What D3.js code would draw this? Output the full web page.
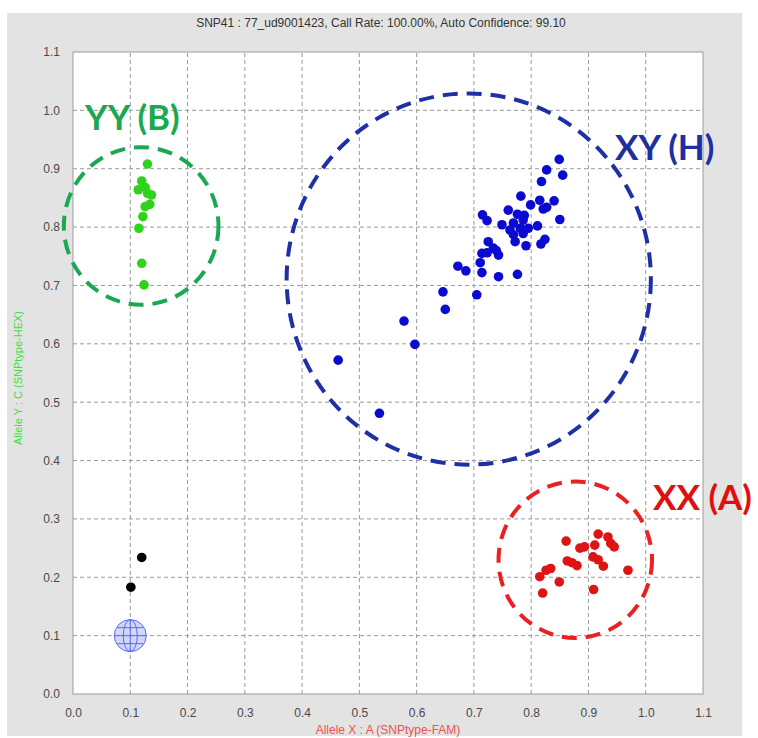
<!DOCTYPE html>
<html>
<head>
<meta charset="utf-8">
<script src="https://cdn.jsdelivr.net/npm/d3@7"></script>
<style>
  body { margin: 0; background: #fff; }
  svg { display: block; }
</style>
</head>
<body>
<svg></svg>
<script>
const width = 758
const height = 738

// 数据
const title = "SNP41 : 77_ud9001423, Call Rate: 100.00%, Auto Confidence: 99.10"
const xTitle = "Allele X : A (SNPtype-FAM)"
const yTitle = "Allele Y : C (SNPtype-HEX)"
const ticks = [0, 0.1, 0.2, 0.3, 0.4, 0.5, 0.6, 0.7, 0.8, 0.9, 1.0, 1.1]

// YY (B)
const yyX = [0.130, 0.120, 0.114, 0.126, 0.130, 0.137, 0.134, 0.126, 0.122, 0.115, 0.120, 0.124]
const yyY = [0.908, 0.879, 0.864, 0.868, 0.858, 0.855, 0.839, 0.835, 0.818, 0.798, 0.738, 0.701]

// XY (H)
const xyX = [0.849, 0.827, 0.855, 0.818, 0.782, 0.815, 0.840, 0.799, 0.760, 0.827, 0.821, 0.776,
  0.788, 0.715, 0.723, 0.786, 0.850, 0.749, 0.769, 0.763, 0.781, 0.795, 0.811, 0.769, 0.786,
  0.772, 0.791, 0.824, 0.817, 0.725, 0.734, 0.714, 0.723, 0.743, 0.739, 0.711, 0.672, 0.686,
  0.714, 0.743, 0.776, 0.646, 0.705, 0.650, 0.578, 0.597, 0.463, 0.535]
const xyY = [0.916, 0.898, 0.889, 0.878, 0.853, 0.846, 0.845, 0.838, 0.829, 0.834, 0.831, 0.822,
  0.820, 0.821, 0.811, 0.812, 0.813, 0.804, 0.807, 0.795, 0.798, 0.798, 0.802, 0.787, 0.789,
  0.775, 0.768, 0.779, 0.771, 0.775, 0.764, 0.755, 0.756, 0.752, 0.760, 0.739, 0.733, 0.725,
  0.722, 0.715, 0.719, 0.689, 0.684, 0.659, 0.639, 0.599, 0.572, 0.481]

// XX (A)
const xxX = [0.917, 0.934, 0.939, 0.945, 0.861, 0.911, 0.885, 0.893, 0.908, 0.917, 0.926, 0.863,
  0.871, 0.880, 0.969, 0.834, 0.826, 0.815, 0.849, 0.820, 0.909]
const xxY = [0.274, 0.269, 0.258, 0.252, 0.262, 0.255, 0.250, 0.252, 0.235, 0.230, 0.219, 0.228,
  0.225, 0.220, 0.212, 0.215, 0.212, 0.201, 0.192, 0.173, 0.179]

// 未判定
const ucX = [0.120, 0.101]
const ucY = [0.234, 0.183]

// NTC
const ntcX = [0.1]
const ntcY = [0.1]

// 聚类圈
const clusterNames = ["YY (B)", "XY (H)", "XX (A)"]
const clusterCx = [0.119, 0.691, 0.877]
const clusterCy = [0.802, 0.711, 0.230]
const clusterR = [0.135, 0.318, 0.134]

const svg = d3.select('svg').attr('width', width).attr('height', height)
  .style('font-family', 'Arial, "Liberation Sans", sans-serif')

// 灰色背景
svg.append('rect').attr('x', 7).attr('y', 13).attr('width', 735).attr('height', 723).attr('fill', '#e3e3e3')

const x = d3.scaleLinear().domain([0, 1.1]).range([73, 703])
const y = d3.scaleLinear().domain([0, 1.1]).range([694, 52])

svg.append('rect').attr('x', x(0)).attr('y', y(1.1))
  .attr('width', x(1.1) - x(0)).attr('height', y(0) - y(1.1))
  .attr('fill', '#fff')

// 网格
const grid = svg.append('g')
grid.selectAll('.gx').data(ticks.slice(1, -1)).enter().append('line')
  .attr('x1', d => x(d)).attr('x2', d => x(d)).attr('y1', y(0)).attr('y2', y(1.1))
  .attr('stroke', '#9a9a9a').attr('stroke-dasharray', '4,3')
grid.selectAll('.gy').data(ticks.slice(1, -1)).enter().append('line')
  .attr('y1', d => y(d)).attr('y2', d => y(d)).attr('x1', x(0)).attr('x2', x(1.1))
  .attr('stroke', '#9a9a9a').attr('stroke-dasharray', '4,3')

svg.append('rect').attr('x', x(0)).attr('y', y(1.1))
  .attr('width', x(1.1) - x(0)).attr('height', y(0) - y(1.1))
  .attr('fill', 'none').attr('stroke', '#9b9b9b')

// 坐标轴
const xAxis = svg.append('g').attr('transform', 'translate(0,' + (y(0) + 11) + ')')
  .call(d3.axisBottom(x).tickValues(ticks).tickFormat(d3.format('.1f')).tickSize(0))
xAxis.select('.domain').remove()
xAxis.selectAll('text').attr('font-size', 12).attr('fill', '#4a4a4a').attr('font-family', 'Arial, "Liberation Sans", sans-serif')

const yAxis = svg.append('g').attr('transform', 'translate(' + (x(0) - 10) + ',0)')
  .call(d3.axisLeft(y).tickValues(ticks).tickFormat(d3.format('.1f')).tickSize(0))
yAxis.select('.domain').remove()
yAxis.selectAll('text').attr('font-size', 12).attr('fill', '#4a4a4a').attr('font-family', 'Arial, "Liberation Sans", sans-serif')

// 标题
svg.append('text').attr('x', 381).attr('y', 27).attr('text-anchor', 'middle')
  .attr('font-size', 12).attr('fill', '#333').text(title)
svg.append('text').attr('x', 388).attr('y', 734).attr('text-anchor', 'middle')
  .attr('font-size', 12).attr('fill', '#f25050').text(xTitle)
svg.append('text').attr('transform', 'translate(22,378) rotate(-90)').attr('text-anchor', 'middle')
  .attr('font-size', 11).attr('fill', '#3fdc3f').text(yTitle)

// 点
function drawPoints(xs, ys, color) {
  svg.append('g').selectAll('circle').data(xs).enter().append('circle')
    .attr('cx', d => x(d)).attr('cy', (d, i) => y(ys[i]))
    .attr('r', 4.8).attr('fill', color)
}
drawPoints(yyX, yyY, '#2fd41a')
drawPoints(xyX, xyY, '#0a0ad0')
drawPoints(xxX, xxY, '#dd1414')
drawPoints(ucX, ucY, '#000')

// NTC 球形标记
const ntc = svg.append('g').selectAll('g').data(ntcX).enter().append('g')
  .attr('transform', (d, i) => 'translate(' + x(d) + ',' + y(ntcY[i]) + ')')
  .attr('stroke', '#5a6cf0').attr('fill', 'none').attr('stroke-width', 1)
ntc.append('circle').attr('r', 16).attr('fill', 'rgba(120,140,240,0.35)')
ntc.append('ellipse').attr('rx', 7).attr('ry', 16)
ntc.append('line').attr('x1', 0).attr('x2', 0).attr('y1', -16).attr('y2', 16)
ntc.append('line').attr('x1', -16).attr('x2', 16).attr('y1', 0).attr('y2', 0)
ntc.append('line').attr('x1', -13).attr('x2', 13).attr('y1', -8).attr('y2', -8)
ntc.append('line').attr('x1', -13).attr('x2', 13).attr('y1', 8).attr('y2', 8)

// 聚类圈和标签
const circleColors = ['#1aa850', '#1f2fa8', '#e82222']
const labelColors = ['#1aa850', '#1f2fa0', '#e01010']
const labelPos = [[85, 130], [615, 160], [653, 510]]
clusterNames.forEach(function (name, i) {
  svg.append('ellipse')
    .attr('cx', x(clusterCx[i])).attr('cy', y(clusterCy[i]))
    .attr('rx', x(clusterR[i]) - x(0)).attr('ry', y(0) - y(clusterR[i]))
    .attr('fill', 'none').attr('stroke', circleColors[i])
    .attr('stroke-width', 4).attr('stroke-dasharray', '15,9')
  svg.append('text').attr('x', labelPos[i][0]).attr('y', labelPos[i][1])
    .attr('font-family', 'Lato, "Open Sans", sans-serif').attr('font-weight', 'bold')
    .attr('font-size', 35).attr('fill', labelColors[i]).text(name)
})
</script>
</body>
</html>
